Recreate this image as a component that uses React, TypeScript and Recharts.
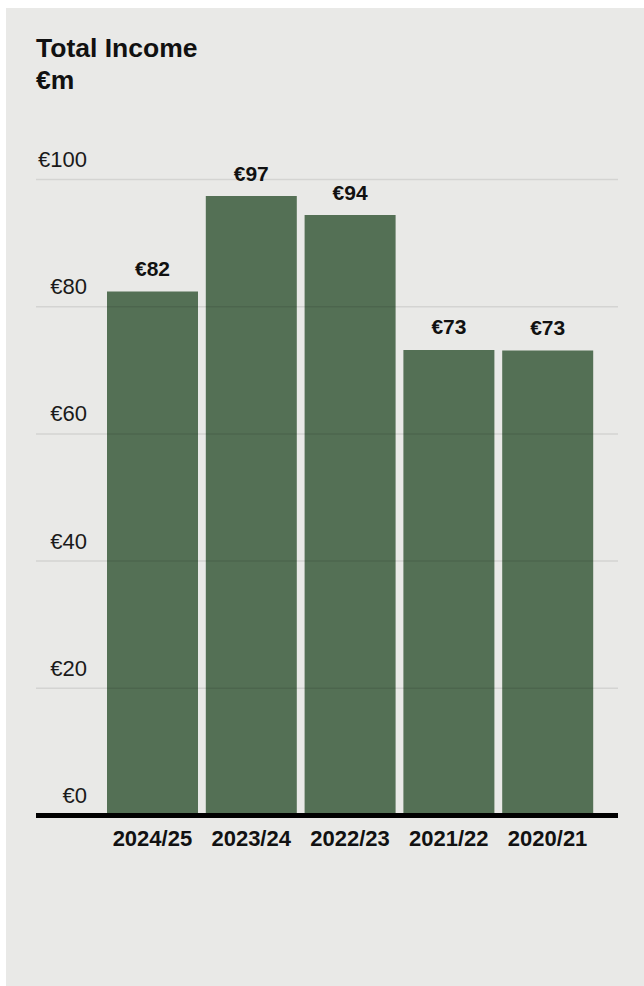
import React from "react";
import { BarChart, Bar, XAxis, YAxis, ReferenceLine, LabelList } from "recharts";

const categories = ["2024/25", "2023/24", "2022/23", "2021/22", "2020/21"];
const incomeValues = [82.4, 97.4, 94.4, 73.2, 73.1];
const yTicks = [0, 20, 40, 60, 80, 100];

const data = categories.map((c, i) => ({ year: c, income: incomeValues[i] }));

const FONT = "'Liberation Sans', Arial, Helvetica, sans-serif";
const BG = "#e9e9e7";
const GREEN = "#547055";

const CHART_W = 638;
const CHART_H = 880;
const M_TOP = 171.5;
const Y_AXIS_W = 30;
const M_RIGHT = 26;
const X_AXIS_H = 40;
const M_BOTTOM = CHART_H - 807.5 - X_AXIS_H;
const PLOT_BOTTOM = CHART_H - M_BOTTOM - X_AXIS_H;

const YTick = (props: any) => {
  const { y, payload } = props;
  return (
    <text x={81} y={y - 12.5} textAnchor="end" fontFamily={FONT} fontSize={22} fill="#1a1a1a">
      {"€" + payload.value}
    </text>
  );
};

const XTick = (props: any) => {
  const { x, payload } = props;
  return (
    <text x={x} y={PLOT_BOTTOM + 30.5} textAnchor="middle" fontFamily={FONT} fontSize={22} fontWeight={700} fill="#111">
      {payload.value}
    </text>
  );
};

const ValueLabel = (props: any) => {
  const { x, y, width, value } = props;
  return (
    <text x={x + width / 2} y={y - 15.5} textAnchor="middle" fontFamily={FONT} fontSize={21} fontWeight={700} fill="#111">
      {"€" + Math.round(value)}
    </text>
  );
};

export default function App() {
  return (
    <div
      style={{
        position: "absolute",
        left: 6,
        top: 8,
        width: CHART_W,
        height: 978,
        background: BG,
        overflow: "hidden",
      }}
    >
      <div
        style={{
          position: "absolute",
          left: 30,
          top: 24,
          fontFamily: FONT,
          fontWeight: 700,
          fontSize: 26.5,
          lineHeight: "32px",
          color: "#111",
          whiteSpace: "nowrap",
        }}
      >
        <div>Total Income</div>
        <div>€m</div>
      </div>
      <div style={{ position: "absolute", left: 0, top: 0 }}>
        <BarChart
          width={CHART_W}
          height={CHART_H}
          data={data}
          margin={{ top: M_TOP, left: 0, right: M_RIGHT, bottom: M_BOTTOM }}
        >
          <XAxis
            dataKey="year"
            height={X_AXIS_H}
            padding={{ left: 67, right: 21 }}
            axisLine={{ stroke: "#000", strokeWidth: 5 }}
            tickLine={false}
            tick={<XTick />}
            interval={0}
          />
          <YAxis
            width={Y_AXIS_W}
            domain={[0, 100]}
            ticks={yTicks}
            axisLine={false}
            tickLine={false}
            tick={<YTick />}
            interval={0}
          />
          <Bar dataKey="income" fill={GREEN} barSize={91} isAnimationActive={false}>
            <LabelList dataKey="income" content={<ValueLabel />} />
          </Bar>
          {yTicks
            .filter((t) => t > 0)
            .map((t) => (
              <ReferenceLine key={t} y={t} stroke="rgba(0,0,0,0.09)" strokeWidth={1.5} />
            ))}
        </BarChart>
      </div>
    </div>
  );
}
